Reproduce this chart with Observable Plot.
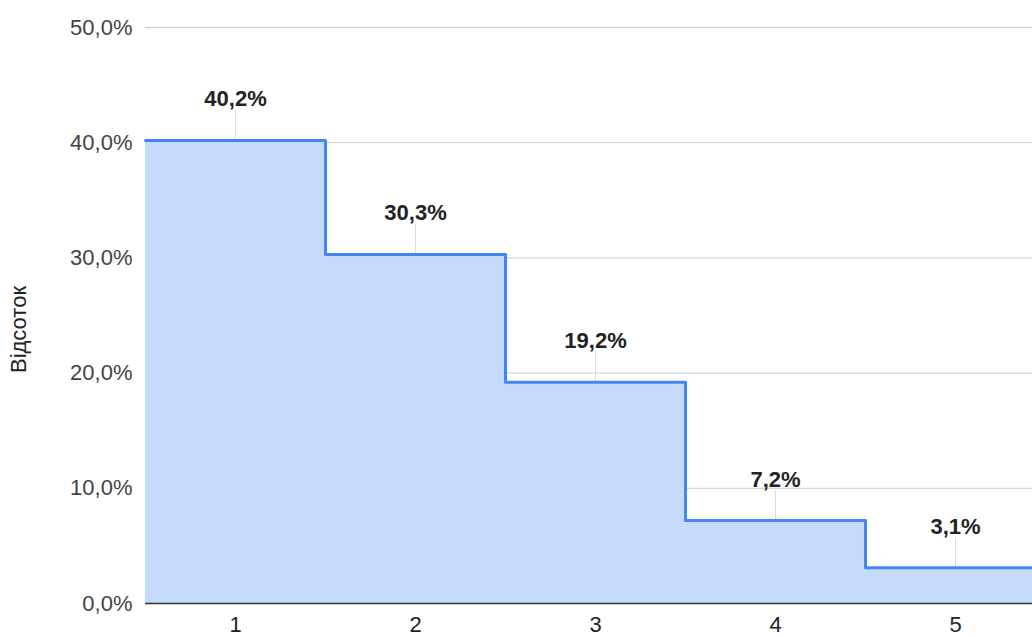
<!DOCTYPE html>
<html><head><meta charset="utf-8">
<script src="https://cdn.jsdelivr.net/npm/d3@7"></script>
<script src="https://cdn.jsdelivr.net/npm/@observablehq/plot@0.6"></script>
<style>
html,body{margin:0;padding:0;background:#fff;overflow:hidden;width:1032px;height:637px}
#chart svg{max-width:none !important;display:block}
</style>
</head><body><div id="chart"></div>
<script>
const categories = [1, 2, 3, 4, 5];
const values = [40.2, 30.3, 19.2, 7.2, 3.1];
const yTicks = [0, 10, 20, 30, 40, 50];
const yLabel = "Відсоток";

const fmt = v => v.toFixed(1).replace(".", ",") + "%";
const steps = categories.map((c, i) => ({x: c - 0.5, y: values[i]}))
  .concat([{x: categories[categories.length - 1] + 0.5, y: values[values.length - 1]}]);
const points = categories.map((c, i) => ({x: c, y: values[i]}));

const chart = Plot.plot({
  width: 1045, height: 637,
  marginLeft: 145, marginRight: 0, marginTop: 27, marginBottom: 34,
  style: {fontFamily: "'Liberation Sans', Arial, sans-serif", fontSize: "22px", maxWidth: "none", background: "#fff"},
  x: {domain: [0.5, 5.5], ticks: categories, tickFormat: d => String(d), tickSize: 0, tickPadding: 13, label: null},
  y: {domain: [0, 50], ticks: yTicks, tickFormat: fmt, tickSize: 0, tickPadding: 13, label: null},
  marks: [
    Plot.gridY(yTicks, {stroke: "#cccccc", strokeOpacity: 1}),
    Plot.areaY(steps, {x: "x", y: "y", curve: "step-after", fill: "#c6dafc"}),
    Plot.ruleX(points, {x: "x", y1: "y", y2: d => d.y + 2.6, stroke: "#dddddd", strokeWidth: 1}),
    Plot.lineY(steps, {x: "x", y: "y", curve: "step-after", stroke: "#4285f4", strokeWidth: 3, strokeLinejoin: "round"}),
    Plot.ruleY([0], {stroke: "#333333", strokeWidth: 1.5}),
    Plot.text(points, {x: "x", y: "y", text: d => fmt(d.y), dy: -41, fontWeight: "bold", fill: "#222222"}),
    Plot.text([yLabel], {frameAnchor: "left", text: d => d, rotate: -90, textAnchor: "middle", dx: -127, dy: 14, fill: "#222222"}),
    Plot.axisY(yTicks, {tickFormat: fmt, tickSize: 0, tickPadding: 13, fill: "#444444"}),
    Plot.axisX(categories, {tickFormat: d => String(d), tickSize: 0, tickPadding: 13, fill: "#222222"})
  ]
});
document.getElementById("chart").appendChild(chart);
</script>
</body></html>
